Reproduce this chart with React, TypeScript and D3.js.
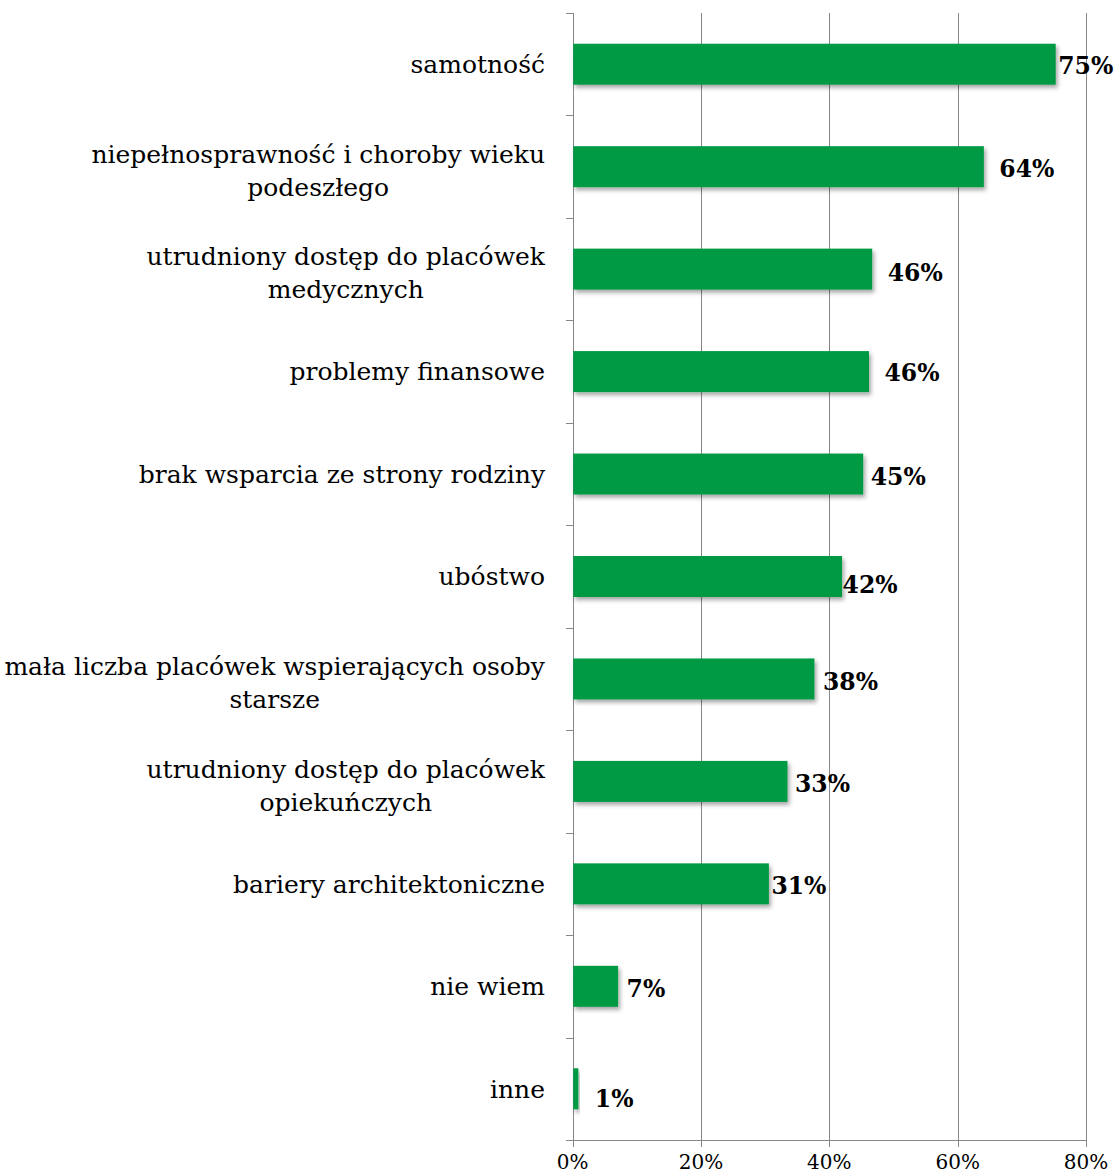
import React, { useEffect, useRef } from "react";
import * as d3 from "d3";

const categories = [
  "samotność",
  "niepełnosprawność i choroby wieku podeszłego",
  "utrudniony dostęp do placówek medycznych",
  "problemy finansowe",
  "brak wsparcia ze strony rodziny",
  "ubóstwo",
  "mała liczba placówek wspierających osoby starsze",
  "utrudniony dostęp do placówek opiekuńczych",
  "bariery architektoniczne",
  "nie wiem",
  "inne",
];

const categoryLines = [
  ["samotność"],
  ["niepełnosprawność i choroby wieku", "podeszłego"],
  ["utrudniony dostęp do placówek", "medycznych"],
  ["problemy finansowe"],
  ["brak wsparcia ze strony rodziny"],
  ["ubóstwo"],
  ["mała liczba placówek wspierających osoby", "starsze"],
  ["utrudniony dostęp do placówek", "opiekuńczych"],
  ["bariery architektoniczne"],
  ["nie wiem"],
  ["inne"],
];

const values = [75.2, 64.0, 46.6, 46.1, 45.2, 41.9, 37.6, 33.4, 30.5, 7.0, 0.8];
const valueLabels = ["75%", "64%", "46%", "46%", "45%", "42%", "38%", "33%", "31%", "7%", "1%"];

const xTicks = [0, 20, 40, 60, 80];
const xTickLabels = ["0%", "20%", "40%", "60%", "80%"];

// label nudges (layout, relative to bar end / bar center), as Excel placed them
const labelNudgeX = [3, 16, 16, 16, 8, 1, 9, 8, 3, 9, 17];
const labelNudgeY = [1, 2, 3.5, 1, 2.5, 8.5, 3, 2, 2, 2, 10];

export default function App() {
  const ref = useRef<SVGSVGElement>(null);

  useEffect(() => {
    const svg = d3.select(ref.current);
    svg.selectAll("*").remove();

    const x0 = 572.7;
    const x1 = 1086;
    const yTop = 13;
    const yBot = 1140;
    const grid = "#878787";
    const barColor = "#009a44";
    const serif = "'DejaVu Serif', serif";

    const x = d3.scaleLinear().domain([0, 80]).range([x0, x1]);
    const y = d3
      .scaleBand<string>()
      .domain(categories)
      .range([yTop, yBot])
      .paddingInner(0.6)
      .paddingOuter(0.3);
    const step = y.step();

    const defs = svg.append("defs");
    const f = defs
      .append("filter")
      .attr("id", "shadow")
      .attr("x", "-10%")
      .attr("y", "-20%")
      .attr("width", "130%")
      .attr("height", "160%");
    f.append("feDropShadow")
      .attr("dx", 2)
      .attr("dy", 3)
      .attr("stdDeviation", 2)
      .attr("flood-color", "#000")
      .attr("flood-opacity", 0.35);

    // vertical gridlines (with small ticks below axis)
    svg
      .append("g")
      .selectAll("line")
      .data(xTicks)
      .join("line")
      .attr("x1", (d) => Math.round(x(d)) + 0.5)
      .attr("x2", (d) => Math.round(x(d)) + 0.5)
      .attr("y1", yTop)
      .attr("y2", yBot + 7)
      .attr("stroke", grid)
      .attr("stroke-width", 1);

    // left axis ticks at band boundaries
    const bounds = d3.range(categories.length + 1).map((i) => yTop + i * step);
    svg
      .append("g")
      .selectAll("line")
      .data(bounds)
      .join("line")
      .attr("x1", Math.round(x0) - 7)
      .attr("x2", Math.round(x0) + 0.5)
      .attr("y1", (d) => Math.round(d) + 0.5)
      .attr("y2", (d) => Math.round(d) + 0.5)
      .attr("stroke", grid)
      .attr("stroke-width", 1);

    // bottom axis line
    svg
      .append("line")
      .attr("x1", Math.round(x0) - 7)
      .attr("x2", Math.round(x1) + 0.5)
      .attr("y1", Math.round(yBot) + 0.5)
      .attr("y2", Math.round(yBot) + 0.5)
      .attr("stroke", grid)
      .attr("stroke-width", 1);

    // bars
    svg
      .append("g")
      .selectAll("rect")
      .data(values)
      .join("rect")
      .attr("x", x(0) + 0.5)
      .attr("y", (_, i) => y(categories[i])!)
      .attr("width", (d) => x(d) - x(0))
      .attr("height", y.bandwidth())
      .attr("fill", barColor)
      .attr("filter", "url(#shadow)");

    // value labels
    svg
      .append("g")
      .selectAll("text")
      .data(values)
      .join("text")
      .attr("x", (d, i) => x(d) + labelNudgeX[i])
      .attr("y", (_, i) => y(categories[i])! + y.bandwidth() / 2 + labelNudgeY[i])
      .attr("dy", "0.36em")
      .attr("font-family", serif)
      .attr("font-weight", "bold")
      .attr("font-size", 23.5)
      .attr("fill", "#000")
      .text((_, i) => valueLabels[i]);

    // category labels (centered lines, right-aligned block)
    const fs = 25;
    const lh = 33;
    const rightEdge = 545;
    categories.forEach((c, i) => {
      const lines = categoryLines[i];
      const center = y(c)! + y.bandwidth() / 2 + (lines.length > 1 ? 4 : 0);
      const g = svg.append("g");
      const texts = lines.map((ln, j) =>
        g
          .append("text")
          .attr("text-anchor", "middle")
          .attr("y", center + (j - (lines.length - 1) / 2) * lh)
          .attr("dy", "0.35em")
          .attr("font-family", serif)
          .attr("font-size", fs)
          .attr("fill", "#000")
          .text(ln)
      );
      const maxW = d3.max(texts, (t) => (t.node() as SVGTextElement).getComputedTextLength()) || 0;
      texts.forEach((t) => t.attr("x", rightEdge - maxW / 2));
    });

    // x tick labels
    svg
      .append("g")
      .selectAll("text")
      .data(xTicks)
      .join("text")
      .attr("x", (d) => x(d))
      .attr("y", 1169)
      .attr("text-anchor", "middle")
      .attr("font-family", serif)
      .attr("font-size", 20)
      .attr("fill", "#000")
      .text((_, i) => xTickLabels[i]);
  }, []);

  return (
    <svg
      ref={ref}
      width={1120}
      height={1176}
      style={{ position: "absolute", left: 0, top: 0, background: "#fff" }}
    />
  );
}
